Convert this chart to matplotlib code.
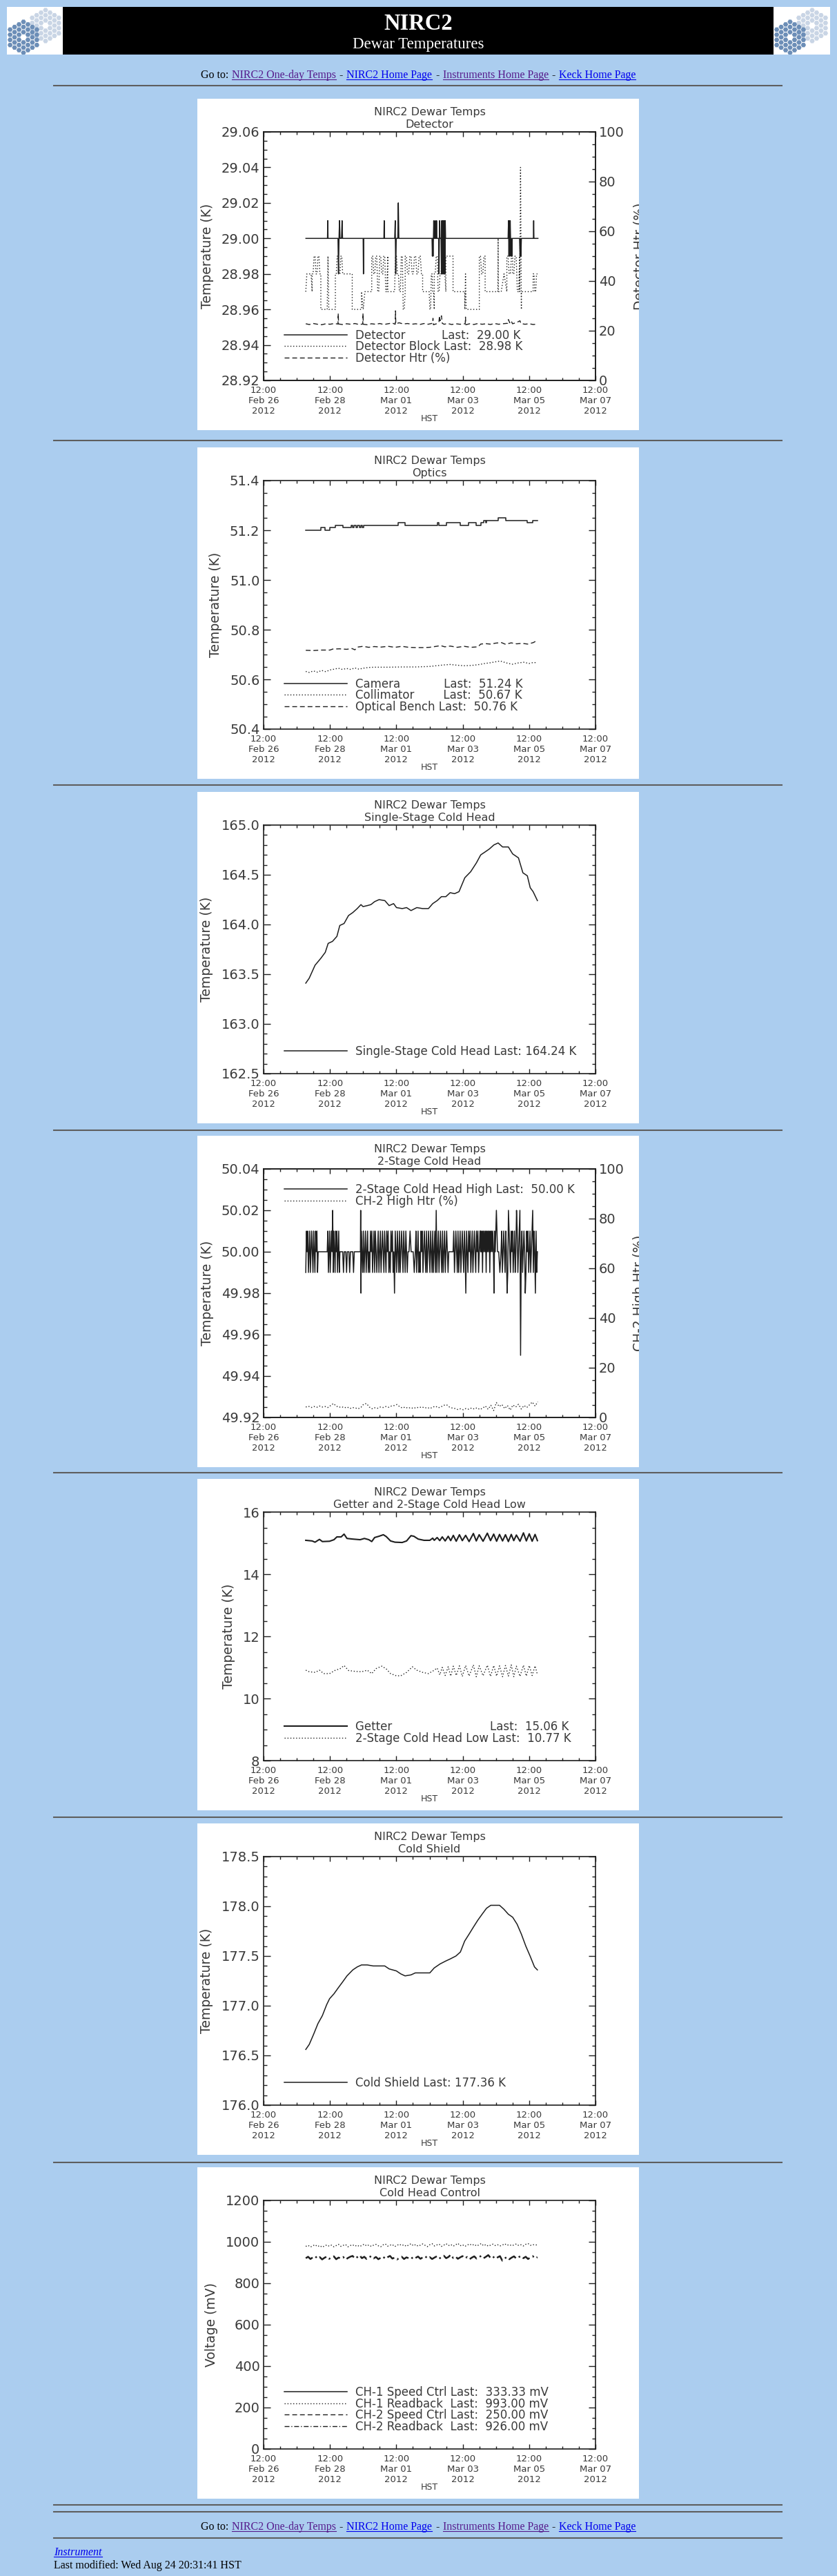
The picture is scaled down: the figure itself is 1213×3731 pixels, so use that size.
import numpy as np
import matplotlib
matplotlib.use('Agg')
import matplotlib.pyplot as plt
from matplotlib.ticker import MultipleLocator, FormatStrFormatter
from matplotlib.patches import Rectangle, RegularPolygon
from matplotlib.lines import Line2D
from matplotlib.transforms import Bbox, TransformedBbox
from datetime import datetime, timedelta

W, H = 1213, 3731
BG = '#abcdef'
INK = '#1e1e1e'
TXT = '#3a3a3a'
VISITED = '#551a8b'
LINK = '#0000ee'
SERIF = 'Liberation Serif'

# time = hours after 2012-02-26 12:00 HST (left edge of every plot)
T_ZERO = datetime(2012, 2, 26, 12, 0)
XMAJ = [0, 48, 96, 144, 192, 240]
XLAB = [(T_ZERO + timedelta(hours=h)).strftime('%H:%M\n%b %d\n%Y') for h in XMAJ]

# ---------------- Detector ----------------
# step traces coded as (start h, end h, samples); one char = one sample
det_levels = {'0': 29.00, '+': 29.01, 'U': 29.02, '-': 28.99, 'D': 28.98}
det_segs = [
    (30.6, 46.2, "00"), (46.2, 46.6, "0+0"), (46.6, 53.8, "00"),
    (53.8, 57.1, "0D0+0000+0"), (57.1, 72.0, "00"), (72.0, 72.4, "0D0"),
    (72.4, 87.0, "00"), (87.0, 87.4, "0+0"), (87.4, 94.8, "00"),
    (94.8, 97.8, "0+D0000U0"), (97.8, 121.8, "00"),
    (121.8, 131.6, "0-0-0+000+000+000000D0+0000D+D+D+D+D+D+0"),
    (131.6, 176.8, "00"), (176.8, 179.8, "0+-+-+0-0-0"), (179.8, 185.1, "00"),
    (185.1, 186.4, "0-0-0"), (186.4, 195.1, "00"), (195.1, 195.5, "0+0"),
    (195.5, 198.4, "00"),
]
blk_levels = {'6': 28.96, '7': 28.97, '8': 28.98, '9': 28.99, '0': 29.00, 'X': 29.04}
blk_segs = [
    (30.5, 35.1, "7888887"), (35.1, 41.4, "8899889988"), (41.4, 46.0, "66"),
    (46.0, 47.7, "6966"), (47.7, 51.9, "66"), (51.9, 57.2, "889988998"),
    (57.2, 64.1, "88"), (64.1, 70.8, "66"), (70.8, 78.2, "7677777"),
    (78.2, 89.8, "99889977998899779"), (89.8, 94.0, "77"),
    (94.0, 102.4, "7799887799667"), (102.4, 115.0, "9988998899889988"),
    (115.0, 119.2, "77"), (119.2, 123.4, "776688776"),
    (123.4, 131.8, "8899778899887"), (131.8, 137.0, "99"), (137.0, 145.5, "77"),
    (145.5, 146.5, "686"), (146.5, 156.0, "66"), (156.0, 160.2, "998899"),
    (160.2, 169.4, "77"), (169.4, 169.8, "707"), (169.8, 175.9, "7787"),
    (175.9, 180.1, "998899"), (180.1, 185.2, "8899779"), (185.2, 186.4, "7X6"),
    (186.4, 194.9, "77"), (194.9, 198.0, "887788"),
]
htr_t = [30.5, 33, 36, 39, 42, 45, 48, 51, 53.8, 54.0,
         54.2, 57, 60, 63, 66, 69, 71.7, 71.9, 72.1, 75,
         78, 81, 84, 87, 90, 93, 95.2, 95.4, 95.6, 98,
         101, 104, 107, 110, 113, 116, 119, 122.2, 122.5, 122.8,
         125, 126.8, 127.2, 127.6, 128.6, 129.2, 130.5, 133, 136, 139,
         142, 145.8, 146.0, 146.2, 149, 152, 155, 158, 161, 164,
         167, 170, 173, 176.5, 177, 178, 179, 180, 183, 185.4,
         186, 189, 192, 195, 198]
htr_v = [22.8, 22.5, 22.9, 22.6, 22.4, 22.8, 22.6, 22.9, 22.7, 27.0,
         22.7, 22.5, 22.8, 22.6, 22.9, 22.5, 22.7, 27.0, 22.6, 22.4,
         22.8, 22.6, 22.9, 22.5, 22.8, 23.1, 22.6, 28.0, 22.8, 23.2,
         22.7, 22.9, 22.6, 22.8, 22.5, 22.9, 22.6, 23.0, 25.0, 22.4,
         22.8, 23.5, 26.0, 24.0, 26.0, 23.0, 22.6, 22.9, 22.5, 22.8,
         22.6, 22.8, 25.5, 22.4, 22.8, 22.5, 22.9, 22.6, 22.8, 22.5,
         22.9, 22.6, 22.8, 23.0, 24.5, 23.2, 24.0, 22.8, 23.3, 24.0,
         22.9, 22.6, 22.8, 22.5, 22.7]

# ---------------- Optics ----------------
cam_t = [30.5, 41.4, 44.6, 47.7, 51.9, 57.2, 63.5, 64.5, 65.5, 66.8,
         68.0, 69.2, 70.4, 71.4, 72.5, 97.1, 102.3, 125.5, 126.9, 132.2,
         142.3, 148.2, 153.8, 157.0, 159.1, 160.5, 161.2, 162.2, 169.6, 174.9,
         190.6, 194.8, 198.0]
cam_v = [51.20, 51.21, 51.20, 51.21, 51.22, 51.21, 51.22, 51.21, 51.22, 51.21,
         51.22, 51.21, 51.22, 51.21, 51.22, 51.23, 51.22, 51.23, 51.22, 51.23,
         51.22, 51.23, 51.22, 51.23, 51.24, 51.23, 51.24, 51.24, 51.25, 51.24,
         51.23, 51.24, 51.24]
coll_t = [30.5, 33, 36, 39, 42, 45, 48, 51, 54, 57,
          60, 63, 66, 69, 72, 76, 80, 90, 100, 110,
          120, 125, 130, 135, 140, 145, 150, 155, 160, 164,
          168, 171, 174, 177, 180, 184, 188, 192, 195, 198]
coll_v = [50.632, 50.628, 50.634, 50.629, 50.636, 50.631, 50.638, 50.641, 50.645, 50.640,
          50.644, 50.640, 50.646, 50.641, 50.645, 50.648, 50.649, 50.649, 50.650, 50.650,
          50.652, 50.655, 50.658, 50.660, 50.657, 50.655, 50.656, 50.659, 50.664, 50.667,
          50.671, 50.674, 50.669, 50.664, 50.661, 50.666, 50.669, 50.664, 50.668, 50.667]
bench_t = [30.5, 36, 42, 48, 50, 55, 60, 64, 66, 68,
           72, 76, 80, 85, 90, 95, 100, 105, 110, 115,
           120, 125, 128, 131, 135, 140, 145, 150, 155, 157,
           160, 164, 168, 172, 175, 179, 183, 187, 191, 195,
           198]
bench_v = [50.717, 50.716, 50.718, 50.718, 50.722, 50.723, 50.721, 50.724, 50.719, 50.730,
           50.733, 50.729, 50.732, 50.730, 50.733, 50.729, 50.733, 50.729, 50.728, 50.728,
           50.729, 50.733, 50.736, 50.731, 50.734, 50.729, 50.733, 50.729, 50.731, 50.742,
           50.744, 50.742, 50.746, 50.748, 50.741, 50.747, 50.743, 50.745, 50.742, 50.748,
           50.757]

# ---------------- Single-stage cold head ----------------
ss_t = [30.5, 33.0, 37.2, 41.4, 44.6, 46.7, 49.8, 53.0, 55.1, 58.2,
        61.4, 64.5, 67.7, 70.4, 71.9, 75.0, 77.6, 80.3, 83.5, 87.7,
        90.8, 94.0, 96.1, 100.3, 103.4, 106.6, 110.8, 115.0, 119.2, 122.3,
        125.5, 128.6, 131.8, 134.9, 138.1, 141.3, 145.5, 149.7, 153.9, 157.0,
        160.2, 163.3, 166.5, 169.6, 172.8, 177.0, 180.1, 184.3, 187.5, 190.7,
        192.8, 194.9, 198.0]
ss_v = [163.41, 163.46, 163.59, 163.66, 163.72, 163.81, 163.83, 163.88, 163.99, 164.01,
        164.09, 164.12, 164.16, 164.20, 164.18, 164.19, 164.20, 164.23, 164.25, 164.24,
        164.19, 164.21, 164.17, 164.16, 164.17, 164.14, 164.17, 164.16, 164.16, 164.21,
        164.24, 164.28, 164.28, 164.32, 164.31, 164.33, 164.47, 164.53, 164.62, 164.70,
        164.73, 164.76, 164.80, 164.82, 164.78, 164.78, 164.71, 164.67, 164.52, 164.49,
        164.37, 164.33, 164.24]

# ---------------- 2-stage cold head high ----------------
hi_levels = {'0': 50.00, '+': 50.01, '-': 49.99, 'U': 50.02, 'D': 49.98, 'X': 49.95}
hi_segs = [
    (30.5, 39.5, "-+0+-0+-0+0-+0-+0+-0"), (39.5, 46.0, "00"),
    (46.0, 55.2, "0+-0+-0+0U-+0-+0+-0+-0"), (55.2, 57.2, "00"),
    (57.2, 65.6, "0-000-000-0000-0"), (65.6, 70.0, "00"), (70.0, 70.6, "0UD0"),
    (70.6, 104.4, "+0-+-0+-0+-0-+0+-0+-+0-0+-0+-0+0-+0-+0+-0-+0+-0D+0-+0-+-0+0-+0-+0-0"),
    (104.4, 109.7, "00+000-0"),
    (109.7, 133.9, "0+-0+-0-+0+-0+0-+-0+0-+0-+-0+-U-0+-0+0-+-0+-0+0-0"),
    (133.9, 137.0, "0000"),
    (137.0, 157.0, "0+-0+0-+-0+-0+0-+0D+0-+0+-0+-0+0-+0+-0+0"),
    (157.0, 167.5, "+0+-+0+0+-+0+0+-+0+0+0D+0"), (167.5, 171.7, "0U00-0"),
    (171.7, 198.0, "0+-0+0-+0D-U+0-+0+-0+-0U+-0+UX0+-0+0D-+0+-0+-0+U-+0D+-0"),
]
ch2htr = [4.2, 4.5, 4.0, 4.4, 4.1, 4.6, 4.2, 4.4, 4.0, 4.8,
          5.6, 4.6, 4.1, 4.3, 3.9, 4.2, 3.6, 4.0, 3.8, 3.5,
          4.1, 5.4, 5.6, 4.2, 3.5, 3.9, 3.7, 4.2, 4.0, 4.4,
          4.1, 4.6, 4.8, 5.2, 4.3, 3.8, 4.2, 3.7, 4.0, 3.6,
          4.1, 3.9, 4.3, 3.8, 4.0, 3.6, 4.2, 4.5, 3.9, 4.3,
          4.9, 5.1, 4.2, 3.8, 3.6, 3.2, 3.5, 3.1, 3.6, 3.3,
          3.8, 3.4, 3.9, 3.2, 3.7, 4.6, 3.3, 4.9, 2.8, 6.0,
          4.4, 5.2, 3.6, 4.8, 3.0, 5.0, 4.2, 5.3, 3.4, 4.8,
          4.0, 5.1, 6.2, 4.6, 6.3]

# ---------------- Getter / 2-stage low ----------------
get_t = [30.5, 35.1, 37.2, 40.4, 42.5, 47.7, 50.9, 53.0, 56.1, 58.2,
         60.3, 64.5, 69.8, 72.9, 76.1, 78.2, 80.3, 83.4, 86.6, 88.7,
         91.8, 95.0, 100.2, 103.4, 106.6, 108.7, 111.8, 116.0, 120.2, 122.3,
         123.4, 125.5, 127.4, 129.2, 131.3, 133.5, 135.3, 137.2, 139.3, 141.6,
         143.7, 146.1, 148.6, 151.7, 153.8, 155.9, 158.7, 161.8, 164.1, 166.4,
         168.5, 170.6, 172.8, 174.9, 177.0, 179.1, 180.9, 182.8, 185.4, 187.9,
         190.0, 192.1, 194.2, 196.3, 198.0]
get_v = [15.09, 15.07, 15.03, 15.12, 15.05, 15.06, 15.11, 15.20, 15.20, 15.29,
         15.15, 15.13, 15.11, 15.15, 15.11, 15.05, 15.18, 15.22, 15.27, 15.21,
         15.07, 15.03, 15.02, 15.07, 15.24, 15.22, 15.13, 15.09, 15.09, 15.16,
         15.09, 15.18, 15.08, 15.20, 15.07, 15.22, 15.08, 15.25, 15.06, 15.27,
         15.08, 15.25, 15.05, 15.31, 15.07, 15.27, 15.06, 15.32, 15.08, 15.29,
         15.06, 15.28, 15.07, 15.27, 15.05, 15.28, 15.08, 15.26, 15.06, 15.33,
         15.07, 15.30, 15.06, 15.28, 15.08]
low_t = [30.5, 33.0, 37.2, 40.4, 43.5, 47.7, 51.9, 55.1, 58.2, 61.4,
         66.6, 70.8, 75.0, 78.2, 81.3, 85.5, 88.7, 91.8, 96.0, 99.2,
         103.4, 107.6, 110.8, 115.0, 119.2, 123.4, 125.5, 127.4, 129.2, 131.3,
         133.5, 135.3, 137.2, 139.3, 141.6, 143.7, 146.1, 148.6, 151.7, 153.8,
         155.9, 158.7, 161.8, 164.1, 166.4, 168.5, 170.6, 172.8, 174.9, 177.0,
         179.1, 180.9, 182.8, 185.4, 187.9, 190.0, 192.1, 194.2, 196.3, 198.0]
low_v = [10.91, 10.86, 10.84, 10.91, 10.80, 10.80, 10.91, 10.95, 11.06, 10.90,
         10.87, 10.86, 10.91, 10.80, 10.96, 11.04, 10.95, 10.80, 10.73, 10.73,
         10.84, 11.02, 10.91, 10.84, 10.80, 10.91, 10.98, 10.76, 11.00, 10.74,
         11.02, 10.72, 11.04, 10.74, 11.05, 10.71, 11.06, 10.72, 11.08, 10.70,
         11.05, 10.73, 11.07, 10.71, 11.06, 10.72, 11.05, 10.70, 11.06, 10.72,
         11.08, 10.70, 11.04, 10.71, 11.07, 10.72, 11.06, 10.74, 11.05, 10.77]

# ---------------- Cold shield ----------------
cs_t = [30.5, 33.0, 36.1, 39.3, 42.5, 45.6, 47.7, 50.9, 54.0, 57.2,
        60.3, 64.5, 67.7, 70.8, 75.0, 79.2, 83.5, 87.6, 90.8, 96.0,
        99.2, 102.3, 106.6, 109.7, 115.0, 120.2, 123.4, 127.6, 131.8, 134.9,
        139.1, 142.3, 145.4, 148.6, 151.7, 154.9, 158.0, 161.2, 164.3, 167.5,
        170.6, 173.8, 177.0, 180.1, 183.3, 186.4, 189.6, 192.7, 195.9, 198.0]
cs_v = [176.56, 176.61, 176.71, 176.82, 176.90, 177.01, 177.07, 177.12, 177.18, 177.24,
        177.30, 177.36, 177.39, 177.41, 177.41, 177.40, 177.40, 177.40, 177.37, 177.35,
        177.32, 177.30, 177.31, 177.33, 177.33, 177.33, 177.38, 177.42, 177.45, 177.47,
        177.50, 177.54, 177.65, 177.72, 177.79, 177.86, 177.92, 177.98, 178.01, 178.01,
        178.01, 177.97, 177.92, 177.89, 177.82, 177.72, 177.60, 177.50, 177.39, 177.36]

# ---------------- Cold head control (mV) ----------------
# speed ctrl channels have no samples inside the plotted window
ch1_speed = []
ch2_speed = []
ch1_rb = [978, 983, 975, 981, 986, 977, 982, 974, 980, 985,
          979, 984, 976, 982, 988, 978, 983, 987, 976, 982,
          986, 979, 984, 977, 983, 989, 980, 985, 978, 984,
          988, 981, 976, 985, 990, 979, 984, 987, 977, 983,
          989, 982, 986, 978, 985, 991, 981, 987, 979, 984,
          990, 983, 977, 986, 991, 980, 985, 989, 978, 984,
          991, 982, 987, 979, 985, 993, 981, 986, 978, 984,
          990, 983, 988, 980, 985, 992, 981, 987, 979, 984,
          989, 982, 986, 980, 984, 991, 983, 987, 981, 985,
          990, 982, 986, 980, 988, 992, 983, 987, 984, 986]
ch2_rb = [921, 928, 917, 925, 931, 919, 926, 915, 923, 929,
          918, 925, 930, 916, 924, 920, 927, 914, 922, 928,
          932, 919, 926, 935, 921, 928, 917, 925, 931, 920,
          927, 916, 923, 929, 918, 926, 932, 919, 924, 915,
          922, 928, 917, 925, 921, 927, 916, 923, 929, 918,
          925, 931, 920, 926, 917, 924, 930, 919, 926, 933,
          921, 927, 938, 922, 929, 918, 925, 931, 920, 927,
          916, 924, 930, 919, 926, 932, 921, 928, 936, 922,
          929, 918, 925, 931, 909, 920, 927, 916, 924, 930,
          919, 926, 932, 921, 928, 917, 925, 931, 920, 926]

PANEL_TOPS = [143, 648, 1147, 1645, 2142, 2641, 3139]
RULES = [124, 638, 1137, 1637, 2133, 2632, 3132, 3628, 3638, 3676]

SOLID = dict(color=INK, lw=1.1)
DOT = dict(color=INK, lw=1.0, ls=(0, (1, 2)))
DASH = dict(color=INK, lw=1.0, ls=(0, (5, 3)))
DASHDOT = dict(color=INK, lw=1.8, ls=(0, (5, 2, 1, 2)))


def decode(segs, levels):
    t, v = [], []
    for t0, t1, pat in segs:
        n = len(pat)
        for k, c in enumerate(pat):
            t.append(t0 + (t1 - t0) * k / (n - 1))
            v.append(levels[c])
    return np.array(t), np.array(v)


def box(x, y, w, h):
    # pixel box measured from the top-left corner -> figure fraction
    return [x / W, 1 - (y + h) / H, w / W, h / H]


fig = plt.figure(figsize=(W / 100, H / 100), dpi=100, facecolor=BG)
renderer = fig.canvas.get_renderer()


def panel(top, subtitle, ylim, major, minor, fmt, ylabel):
    fig.add_artist(Rectangle((286 / W, 1 - (top + 480) / H), 640 / W, 480 / H,
                             transform=fig.transFigure, facecolor='white',
                             edgecolor='none', zorder=-1))
    ax = fig.add_axes(box(382, top + 48, 481, 360))
    ax.set_xlim(0, 240)
    ax.set_ylim(*ylim)
    ax.set_xticks(XMAJ, XLAB)
    ax.xaxis.set_minor_locator(MultipleLocator(12))
    ax.yaxis.set_major_locator(MultipleLocator(major))
    ax.yaxis.set_minor_locator(MultipleLocator(minor))
    ax.yaxis.set_major_formatter(FormatStrFormatter(fmt))
    ax.tick_params(which='both', direction='in', top=True, right=True,
                   color=INK, width=1.0, labelcolor=TXT)
    ax.tick_params(axis='y', which='major', length=7.5, labelsize=14, pad=4)
    ax.tick_params(axis='y', which='minor', length=3.8)
    ax.tick_params(axis='x', which='major', length=5, labelsize=9.5, pad=6)
    ax.tick_params(axis='x', which='minor', length=2.6)
    for s in ax.spines.values():
        s.set_color(INK)
        s.set_linewidth(1.2)
    ax.set_ylabel(ylabel, fontsize=13.5, color=TXT, labelpad=8)
    ax.set_xlabel('HST', fontsize=9, color=TXT)
    ax.xaxis.set_label_coords(0.5, -0.137)
    ax.text(0.5, 1.099, 'NIRC2 Dewar Temps\n' + subtitle, transform=ax.transAxes,
            ha='center', va='top', fontsize=11.5, color=TXT, linespacing=1.25)
    return ax


def right_axis(ax, top, label):
    a2 = ax.twinx()
    a2.set_ylim(0, 100)
    a2.yaxis.set_major_locator(MultipleLocator(20))
    a2.yaxis.set_minor_locator(MultipleLocator(5))
    a2.yaxis.set_major_formatter(FormatStrFormatter('%d'))
    a2.tick_params(which='both', direction='in', color=INK, width=1.0, labelcolor=TXT)
    a2.tick_params(which='major', length=7.5, labelsize=14, pad=3.5)
    a2.tick_params(which='minor', length=3.8)
    for s in a2.spines.values():
        s.set_color(INK)
        s.set_linewidth(1.2)
    # the source image is cut at its right edge, right through this label
    a2.set_ylabel(label, fontsize=13.5, color=TXT, labelpad=9)
    clip = TransformedBbox(Bbox.from_bounds(286 / W, 1 - (top + 480) / H, 640 / W, 480 / H),
                           fig.transFigure)
    a2.yaxis.label.set_clip_box(clip)
    a2.yaxis.label.set_clip_on(True)
    return a2


def legend(ax, handles, labels, upper=False):
    kw = dict(frameon=False, borderpad=0, borderaxespad=0, handlelength=5.45,
              handletextpad=0.72, labelspacing=-0.08, fontsize=12, labelcolor=TXT)
    if upper:
        ax.legend(handles, labels, loc='upper left', bbox_to_anchor=(0.062, 0.942), **kw)
    else:
        ax.legend(handles, labels, loc='lower left', bbox_to_anchor=(0.062, 0.064), **kw)


def page_text(x, y, s, color='black', size=11.5, style='normal', weight='normal',
              ha='left', underline=False):
    t = fig.text(x / W, 1 - y / H, s, color=color, fontsize=size, family=SERIF,
                 style=style, weight=weight, ha=ha, va='baseline')
    if underline:
        w = t.get_window_extent(renderer).width
        fig.add_artist(Line2D([x / W, (x + w) / W], [1 - (y + 2) / H] * 2,
                              transform=fig.transFigure, color=color, lw=0.8))
    return t


def goto_line(y):
    pieces = [('Go to:', 'black', False), ('NIRC2 One-day Temps', VISITED, True),
              ('-', 'black', False), ('NIRC2 Home Page', LINK, True),
              ('-', 'black', False), ('Instruments Home Page', VISITED, True),
              ('-', 'black', False), ('Keck Home Page', LINK, True)]
    gap = 5
    widths = []
    for s, c, u in pieces:
        t = fig.text(0, 0, s, fontsize=11.5, family=SERIF)
        widths.append(t.get_window_extent(renderer).width)
        t.remove()
    x = 606 - (sum(widths) + gap * (len(pieces) - 1)) / 2
    for (s, c, u), w in zip(pieces, widths):
        page_text(x, y, s, color=c, underline=u)
        x += w + gap


def logo(x, y, w, h):
    lax = fig.add_axes(box(x, y, w, h))
    lax.set_xlim(0, w)
    lax.set_ylim(h, 0)
    lax.set_axis_off()
    lax.add_patch(Rectangle((0, 0), w, h, facecolor='white', edgecolor='none'))
    rh = 4.3
    for (cx, cy), col in (((56, 27), '#c9d5e5'), ((24, 44), '#6c8eb7')):
        for q in range(-3, 4):
            for r in range(-3, 4):
                if (q, r) == (0, 0) or abs(q + r) > 3:
                    continue
                px = cx + 1.5 * rh * q
                py = cy + np.sqrt(3) * rh * (r + q / 2)
                lax.add_patch(RegularPolygon((px, py), 6, radius=rh * 0.86,
                                             orientation=np.pi / 6,
                                             facecolor=col, edgecolor='none'))


# ---------------- page header ----------------
fig.add_artist(Rectangle((91 / W, 1 - 79 / H), 1030 / W, 69 / H, transform=fig.transFigure,
                         facecolor='black', edgecolor='none'))
logo(10, 10, 81, 69)
logo(1121, 10, 82, 69)
page_text(606, 43, 'NIRC2', color='white', size=23.5, weight='bold', ha='center')
page_text(606, 70, 'Dewar Temperatures', color='white', size=16.5, ha='center')
goto_line(113)

for y in RULES:
    fig.add_artist(Line2D([78 / W, 1133 / W], [1 - y / H] * 2, transform=fig.transFigure,
                          color='#5e5e5e', lw=1.5))

# ---------------- 1: detector ----------------
top = PANEL_TOPS[0]
ax = panel(top, 'Detector', (28.92, 29.06), 0.02, 0.005, '%.2f', 'Temperature (K)')
a2 = right_axis(ax, top, 'Detector Htr (%)')
t, v = decode(det_segs, det_levels)
l1, = ax.plot(t, v, **SOLID)
t, v = decode(blk_segs, blk_levels)
l2, = ax.plot(t, v, **DOT)
l3, = a2.plot(htr_t, htr_v, **DASH)
legend(a2, [l1, l2, l3], ['Detector          Last:  29.00 K',
                          'Detector Block Last:  28.98 K',
                          'Detector Htr (%)'])

# ---------------- 2: optics ----------------
top = PANEL_TOPS[1]
ax = panel(top, 'Optics', (50.4, 51.4), 0.2, 0.05, '%.1f', 'Temperature (K)')
l1, = ax.plot(cam_t, cam_v, drawstyle='steps-post', **SOLID)
l2, = ax.plot(coll_t, coll_v, **DOT)
l3, = ax.plot(bench_t, bench_v, **DASH)
legend(ax, [l1, l2, l3], ['Camera            Last:  51.24 K',
                          'Collimator        Last:  50.67 K',
                          'Optical Bench Last:  50.76 K'])

# ---------------- 3: single-stage cold head ----------------
top = PANEL_TOPS[2]
ax = panel(top, 'Single-Stage Cold Head', (162.5, 165.0), 0.5, 0.1, '%.1f', 'Temperature (K)')
l1, = ax.plot(ss_t, ss_v, **SOLID)
legend(ax, [l1], ['Single-Stage Cold Head Last: 164.24 K'])

# ---------------- 4: 2-stage cold head ----------------
top = PANEL_TOPS[3]
ax = panel(top, '2-Stage Cold Head', (49.92, 50.04), 0.02, 0.005, '%.2f', 'Temperature (K)')
a2 = right_axis(ax, top, 'CH-2 High Htr (%)')
t, v = decode(hi_segs, hi_levels)
l1, = ax.plot(t, v, **SOLID)
l2, = a2.plot(np.linspace(30.5, 198.3, len(ch2htr)), ch2htr, **DOT)
legend(a2, [l1, l2], ['2-Stage Cold Head High Last:  50.00 K', 'CH-2 High Htr (%)'], upper=True)

# ---------------- 5: getter / 2-stage low ----------------
top = PANEL_TOPS[4]
ax = panel(top, 'Getter and 2-Stage Cold Head Low', (8, 16), 2, 0.5, '%d', 'Temperature (K)')
l1, = ax.plot(get_t, get_v, color=INK, lw=1.5)
l2, = ax.plot(low_t, low_v, **DOT)
legend(ax, [l1, l2], ['Getter' + ' ' * 27 + 'Last:  15.06 K',
                      '2-Stage Cold Head Low Last:  10.77 K'])

# ---------------- 6: cold shield ----------------
top = PANEL_TOPS[5]
ax = panel(top, 'Cold Shield', (176.0, 178.5), 0.5, 0.1, '%.1f', 'Temperature (K)')
l1, = ax.plot(cs_t, cs_v, **SOLID)
legend(ax, [l1], ['Cold Shield Last: 177.36 K'])

# ---------------- 7: cold head control ----------------
top = PANEL_TOPS[6]
ax = panel(top, 'Cold Head Control', (0, 1200), 200, 50, '%d', 'Voltage (mV)')
l1, = ax.plot(ch1_speed, ch1_speed, **SOLID)
l2, = ax.plot(np.linspace(30.5, 198.0, len(ch1_rb)), ch1_rb, **DOT)
l3, = ax.plot(ch2_speed, ch2_speed, **DASH)
l4, = ax.plot(np.linspace(30.5, 198.0, len(ch2_rb)), ch2_rb, **DASHDOT)
h4 = Line2D([], [], color=INK, lw=1.0, ls=(0, (5, 2, 1, 2)))
legend(ax, [l1, l2, l3, h4],
       ['CH-1 Speed Ctrl Last:  333.33 mV', 'CH-1 Readback  Last:  993.00 mV',
        'CH-2 Speed Ctrl Last:  250.00 mV', 'CH-2 Readback  Last:  926.00 mV'])

# ---------------- footer ----------------
goto_line(3664)
page_text(78, 3701, 'Instrument', color=LINK, style='italic', underline=True)
page_text(78, 3720, 'Last modified: Wed Aug 24 20:31:41 HST')

fig.savefig('out.png', dpi=100, facecolor=BG)
